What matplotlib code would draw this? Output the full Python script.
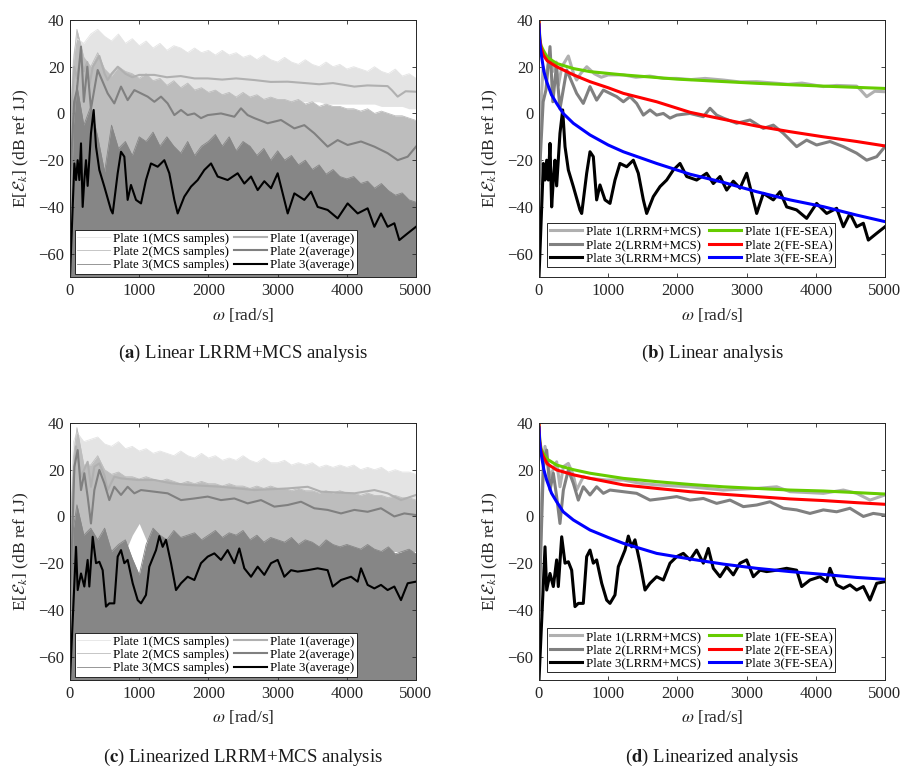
import matplotlib
matplotlib.use("Agg")
import matplotlib.pyplot as plt

plt.rcParams["font.family"] = ["Liberation Serif", "DejaVu Serif"]
plt.rcParams["mathtext.fontset"] = "stix"

# --- linear analysis: MCS averages (also LRRM+MCS in panel b) ---
lin_w1 = [0, 30, 60, 100, 150, 200, 250, 280, 330, 424, 500, 544, 600, 690, 800, 900, 1000,
          1219, 1400, 1600, 1800, 1990, 2200, 2400, 2664, 2900, 3146, 3400, 3600, 3800, 4109,
          4300, 4590, 4650, 4735, 4850, 5000]
lin_p1 = [-43, 5, 20, 15, 25, 18, 22, 12, 20, 24.6, 17, 14.3, 17, 20, 17, 15.5, 16.5,
          16.5, 15.5, 16, 15, 15, 14.5, 15, 14.3, 13.5, 13.6, 13, 12.5, 13, 11.5,
          12, 11.7, 10, 7.2, 9.5, 9.3]

lin_w2 = [0, 60, 100, 159, 200, 250, 303, 400, 544, 640, 737, 833, 930, 1026, 1122, 1219,
          1315, 1411, 1508, 1604, 1700, 1797, 1893, 1990, 2182, 2375, 2471, 2567, 2664, 2856,
          3049, 3242, 3386, 3531, 3723, 3868, 4012, 4205, 4398, 4590, 4735, 4880, 5000]
lin_p2 = [-30, 5, 10, 28.6, 5, 20, 2, 18.6, 8.6, 4.3, 11.5, 5.7, 10, 8.6, 7.2, 5,
          7.2, 4.3, -0.7, 1.5, -0.7, 0, -2, -0.7, 0, -1.4, 2.2, -0.7, -2, -4.2,
          -2.8, -6.4, -5, -8.5, -14.2, -11.4, -13.5, -12, -14.2, -17, -20, -18.5, -14.2]

lin_w3 = [0, 63, 87, 111, 135, 159, 183, 207, 231, 255, 303, 342, 376, 424, 496, 592, 617,
          689, 737, 785, 833, 881, 954, 1026, 1098, 1170, 1267, 1363, 1435, 1508, 1556, 1652,
          1749, 1845, 1941, 2038, 2134, 2278, 2423, 2519, 2616, 2712, 2808, 2905, 3001, 3097,
          3146, 3242, 3386, 3483, 3579, 3723, 3868, 4012, 4157, 4301, 4398, 4494, 4590, 4687,
          4759, 4880, 5000]
lin_p3 = [-70, -21.4, -28.5, -20, -28.5, -12.8, -40, -28.5, -20, -31, -8.5, 1.5, -14.2, -24.2,
          -31.3, -41.3, -42.8, -25.6, -16.4, -18.5, -37, -30.6, -37, -38.5, -28.5, -21.4, -22.8,
          -20, -25.6, -37, -42.8, -35.6, -31.3, -28.5, -24.2, -21.4, -27, -28.5, -25.6, -30,
          -27, -32.8, -29, -32, -25.6, -37, -42.8, -34.2, -37, -33.5, -40, -41.3, -44.9,
          -38.5, -42.8, -40.6, -48.5, -42.8, -48.5, -47, -54.2, -51.3, -48.5]

# --- linear FE-SEA ---
lin_sea_w1 = [0, 10, 20, 30, 63, 120, 255, 500, 737, 1219, 1990, 3146, 4109, 5000]
lin_sea1 = [40, 33, 30.5, 29, 27, 24, 21.4, 19.2, 17.9, 16.5, 14.7, 12.9, 11.7, 10.7]
lin_sea_w2 = [0, 10, 30, 63, 120, 255, 500, 737, 1000, 1219, 1700, 2182, 2664, 3146, 3627,
              4109, 4590, 5000]
lin_sea2 = [40, 32, 28, 25, 22.5, 20, 16.5, 13.6, 11, 8.6, 5.0, 0.5, -2.5, -5.4, -7.8,
            -10, -12, -13.9]
lin_sea_w3 = [0, 10, 20, 38, 70, 111, 180, 255, 350, 496, 737, 1000, 1219, 1700, 2182, 2664,
              3146, 3627, 4109, 4590, 5000]
lin_sea3 = [38, 32, 28, 24.3, 18, 13.6, 8, 4.3, 0, -4.2, -9.2, -13.5, -16.4, -21.4, -26,
            -29.5, -33.5, -37, -39.9, -43.5, -46.3]

# --- linearized analysis: averages ---
lz_w1 = [0, 40, 87, 159, 255, 303, 352, 424, 496, 544, 640, 737, 978, 1219, 1460, 1700,
         2182, 2664, 3146, 3435, 3627, 4109, 4398, 4590, 4783, 5000]
lz_p1 = [-42, 10, 30, 17, 23.4, 12.7, 21.3, 22.7, 17.7, 11.3, 17, 16.3, 15.6, 15.6, 14.2,
         13.5, 12.7, 11.3, 12, 12.7, 10.6, 9.9, 11.3, 9.9, 7, 9.2]

lz_w2 = [0, 63, 111, 159, 207, 255, 303, 352, 424, 496, 568, 640, 737, 833, 930, 1026, 1219,
         1411, 1604, 1797, 1990, 2182, 2375, 2567, 2760, 2953, 3146, 3338, 3531, 3723, 3916,
         4109, 4301, 4494, 4687, 4831, 5000]
lz_p2 = [-40, 21.3, 28.4, 11.3, 18.5, 8.5, -3, 11.3, 19.9, 14.2, 7, 12.7, 9.2, 12.7, 9.9,
         11.3, 10.6, 9.9, 7, 7.7, 8.5, 7, 7.7, 5.6, 7, 4.2, 4.9, 6.3, 3.5, 2.8, 1.3,
         2.8, 2, 3.5, 0, 1.3, 0.6]

lz_w3 = [0, 87, 111, 159, 207, 255, 279, 328, 376, 424, 472, 520, 568, 640, 689, 737, 785,
         833, 906, 978, 1026, 1098, 1146, 1195, 1243, 1291, 1339, 1387, 1460, 1532, 1604,
         1700, 1797, 1893, 1990, 2086, 2182, 2278, 2375, 2447, 2519, 2616, 2712, 2808, 2905,
         3001, 3097, 3194, 3290, 3435, 3579, 3723, 3796, 3916, 4061, 4157, 4205, 4301, 4398,
         4494, 4590, 4687, 4783, 4880, 5000]
lz_p3 = [-70, -13, -31.5, -24.4, -30, -18.6, -30, -8.7, -20, -19.4, -23, -38.6, -37.2, -37.2,
         -17.2, -14.4, -20, -18.6, -28.6, -35.8, -37.2, -33.6, -21.5, -17.9, -14.4, -8.4, -13,
         -10, -20, -31.5, -28.6, -25.8, -27.2, -20, -17.2, -15.8, -18.6, -14.4, -20, -13.7,
         -22.2, -25.8, -21.5, -25, -20, -18.6, -25.8, -23, -23.6, -23, -22.2, -23, -30, -27.2,
         -25.8, -27.9, -22.2, -29.3, -30.8, -29.3, -31.5, -30, -35.8, -28.6, -27.9]

# --- linearized FE-SEA ---
lz_sea_w1 = [0, 10, 30, 63, 120, 255, 500, 737, 1219, 1700, 2182, 2664, 3146, 3627, 4109,
             4590, 5000]
lz_sea1 = [40, 33, 29, 27, 24.5, 22, 20, 18.5, 16.3, 14.9, 13.7, 12.7, 12, 11.3, 10.9,
           10.2, 9.6]
lz_sea_w2 = [0, 10, 30, 63, 120, 255, 500, 737, 1219, 1700, 2182, 2664, 3146, 3627, 4109,
             4590, 5000]
lz_sea2 = [40, 32, 28, 25.6, 22.5, 19.9, 17.8, 16.3, 13.5, 12, 10.6, 9.5, 8.5, 7.5, 6.8,
           5.9, 5.2]
lz_sea_w3 = [0, 10, 20, 38, 70, 111, 180, 255, 350, 496, 737, 1000, 1219, 1700, 2182, 2664,
             3146, 3627, 4109, 4590, 5000]
lz_sea3 = [38, 32, 29, 25.6, 20, 15.6, 10, 6.3, 2, -1.5, -5.8, -9, -11.5, -15.8, -18.2,
           -20.4, -22.2, -23.6, -24.8, -26.1, -26.9]

# --- MCS sample spread: upper / lower envelopes of each sample cloud ---
band_w = [0, 50, 100, 200, 300, 400, 500, 600, 700, 800, 900, 1000,
          1100, 1200, 1300, 1400, 1500, 1600, 1700, 1800, 1900, 2000,
          2100, 2200, 2300, 2400, 2500, 2600, 2700, 2800, 2900, 3000,
          3100, 3200, 3300, 3400, 3500, 3600, 3700, 3800, 3900, 4000,
          4100, 4200, 4300, 4400, 4500, 4600, 4700, 4800, 4900, 5000]
floor_val = -75

lin_s1_up = [0, 25, 32, 30, 34, 36, 33, 31, 34, 30, 32, 29,
             31, 28, 30, 27, 29, 28, 26, 28, 26, 27,
             25, 27, 25, 26, 24, 25, 23, 25, 23, 22,
             24, 22, 21, 23, 21, 20, 22, 20, 21, 19,
             20, 19, 18, 20, 18, 17, 19, 16, 17, 15]
lin_s1_lo = [-40, 5, 8, 10, 9, 10, 9, 8, 9, 9, 9, 9,
             8, 8, 8, 8, 8, 8, 8, 7, 7, 7,
             7, 7, 7, 7, 6, 6, 6, 6, 6, 6,
             5, 5, 5, 5, 5, 5, 4, 4, 4, 4,
             4, 4, 4, 4, 3, 3, 3, 3, 2, 2]
lin_s2_up = [-10, 22, 36, 24, 20, 26, 19, 16, 20, 18, 17, 15,
             17, 14, 15, 12, 14, 11, 13, 10, 11, 9,
             10, 8, 9, 7, 9, 7, 8, 6, 7, 6,
             6, 5, 6, 4, 5, 3, 4, 3, 3, 2,
             2, 1, 2, 0, 1, 0, -1, -1, -2, -3]
lin_s2_lo = [-70, -45, -40, -40, -45, -45, -45, -45, -45, -45, -45, -45,
             -45, -45, -45, -45, -45, -45, -45, -45, -45, -45,
             -45, -45, -45, -45, -45, -45, -45, -45, -45, -45,
             -45, -45, -45, -45, -45, -45, -45, -45, -50, -50,
             -50, -50, -50, -50, -50, -50, -50, -50, -50, -50]
lin_s3_up = [-60, -5, 12, -5, 3, -10, -25, -5, -15, -12, -18, -10,
             -12, -8, -14, -10, -14, -17, -12, -18, -14, -12,
             -9, -14, -10, -16, -12, -14, -18, -15, -20, -16,
             -20, -18, -22, -20, -24, -22, -26, -24, -27, -28,
             -27, -30, -29, -32, -30, -33, -35, -34, -37, -38]

lz_s1_up = [0, 32, 36, 32, 33, 34, 31, 30, 32, 29, 30, 28,
            29, 27, 28, 27, 26, 28, 26, 25, 27, 25,
            26, 24, 25, 24, 26, 24, 23, 25, 23, 23,
            24, 22, 23, 22, 23, 21, 22, 21, 22, 21,
            22, 20, 21, 20, 21, 19, 20, 19, 19, 18]
lz_s1_lo = [-40, 8, 10, 10, 10, 10, 10, 10, 10, 10, 10, 10,
            10, 10, 10, 10, 10, 10, 10, 9, 9, 9,
            9, 9, 9, 9, 9, 9, 8, 8, 8, 8,
            8, 8, 8, 8, 8, 8, 7, 7, 7, 7,
            7, 7, 7, 6, 6, 6, 6, 6, 5, 5]
lz_s2_up = [-10, 25, 38, 22, 22, 26, 20, 18, 19, 17, 17, 16,
            17, 16, 15, 16, 15, 14, 15, 14, 15, 14,
            14, 13, 14, 13, 13, 12, 13, 12, 13, 12,
            12, 11, 12, 11, 11, 10, 11, 10, 11, 10,
            10, 9, 10, 9, 9, 8, 9, 8, 8, 7]
lz_s2_lo = [-70, -30, -28, -25, -25, -20, -25, -20, -18, -15, -8, -3,
            -10, -15, -15, -15, -15, -15, -15, -15, -15, -15,
            -15, -15, -15, -15, -15, -15, -15, -15, -15, -15,
            -15, -15, -15, -15, -15, -15, -15, -15, -15, -15,
            -15, -15, -15, -15, -15, -15, -15, -15, -15, -15]
lz_s3_up = [-60, -5, 5, -8, -5, -10, -5, -15, -12, -10, -18, -25,
            -12, -5, -8, -10, -6, -9, -8, -7, -10, -8,
            -6, -9, -7, -8, -6, -10, -8, -11, -9, -10,
            -11, -9, -12, -10, -11, -13, -10, -12, -13, -12,
            -13, -14, -12, -14, -15, -13, -16, -15, -14, -16]

sample_colors = ["#e4e4e4", "#bdbdbd", "#868686"]
avg_colors = ["#b0b0b0", "#808080", "#000000"]
sea_colors = ["#66cc00", "#ff0000", "#0000ff"]
axis_col = "#262626"


def style_axes(ax):
    ax.set_xlim(0, 5000)
    ax.set_ylim(-70, 40)
    ax.set_xticks([0, 1000, 2000, 3000, 4000, 5000])
    ax.set_yticks([-60, -40, -20, 0, 20, 40])
    ax.tick_params(direction="in", top=True, right=True, length=3, width=0.6,
                   labelsize=12, colors=axis_col, pad=4)
    for s in ax.spines.values():
        s.set_color(axis_col)
        s.set_linewidth(0.7)
    ax.set_xlabel(r"$\omega$ [rad/s]", fontsize=12.5, color=axis_col, labelpad=5)
    ax.set_ylabel(r"E[$\mathcal{E}_k$] (dB ref 1J)", fontsize=12.5, color=axis_col,
                  labelpad=5)


def mcs_panel(ax, bands, avgs):
    for i, (up, lo) in enumerate(bands):
        ax.fill_between(band_w, lo, up, color=sample_colors[i], lw=0)
        ax.plot(band_w, up, color=sample_colors[i], lw=0.6,
                label=f"Plate {i + 1}(MCS samples)")
    for i, (w, v) in enumerate(avgs):
        ax.plot(w, v, color=avg_colors[i], lw=1.5, label=f"Plate {i + 1}(average)")
    style_axes(ax)
    leg = ax.legend(loc="lower left", bbox_to_anchor=(0.014, 0.012), borderaxespad=0,
                    ncol=2, fontsize=9.3, handlelength=2.5, handletextpad=0.25,
                    columnspacing=0.4, labelspacing=0.1, borderpad=0.2,
                    fancybox=False, framealpha=1, edgecolor=axis_col)
    leg.get_frame().set_linewidth(0.7)


def compare_panel(ax, avgs, seas, anchor):
    for i, (w, v) in enumerate(avgs):
        ax.plot(w, v, color=avg_colors[i], lw=2.2, label=f"Plate {i + 1}(LRRM+MCS)")
    for i, (w, v) in enumerate(seas):
        ax.plot(w, v, color=sea_colors[i], lw=2.2, label=f"Plate {i + 1}(FE-SEA)")
    style_axes(ax)
    leg = ax.legend(loc="lower left", bbox_to_anchor=anchor, borderaxespad=0,
                    ncol=2, fontsize=9.3, handlelength=2.5, handletextpad=0.3,
                    columnspacing=0.6, labelspacing=0.1, borderpad=0.2,
                    fancybox=False, framealpha=1, edgecolor=axis_col)
    leg.get_frame().set_linewidth(0.7)


def main():
    fig = plt.figure(figsize=(9.04, 7.72), dpi=100)
    W, H = 904, 772
    aw, ah = 346 / W, 257 / H
    ax_a = fig.add_axes([70 / W, (H - 277) / H, aw, ah])
    ax_b = fig.add_axes([539 / W, (H - 277) / H, aw, ah])
    ax_c = fig.add_axes([70 / W, (H - 680) / H, aw, ah])
    ax_d = fig.add_axes([539 / W, (H - 680) / H, aw, ah])

    lin_avgs = [(lin_w1, lin_p1), (lin_w2, lin_p2), (lin_w3, lin_p3)]
    lz_avgs = [(lz_w1, lz_p1), (lz_w2, lz_p2), (lz_w3, lz_p3)]
    floor = [floor_val] * len(band_w)

    mcs_panel(ax_a, [(lin_s1_up, lin_s1_lo), (lin_s2_up, lin_s2_lo),
                     (lin_s3_up, floor)], lin_avgs)
    compare_panel(ax_b, lin_avgs,
                  [(lin_sea_w1, lin_sea1), (lin_sea_w2, lin_sea2), (lin_sea_w3, lin_sea3)],
                  (0.023, 0.039))
    mcs_panel(ax_c, [(lz_s1_up, lz_s1_lo), (lz_s2_up, lz_s2_lo),
                     (lz_s3_up, floor)], lz_avgs)
    compare_panel(ax_d, lz_avgs,
                  [(lz_sea_w1, lz_sea1), (lz_sea_w2, lz_sea2), (lz_sea_w3, lz_sea3)],
                  (0.023, 0.031))

    captions = [(243, 353, r"($\mathbf{a}$) Linear LRRM+MCS analysis"),
                (712, 353, r"($\mathbf{b}$) Linear analysis"),
                (243, 757, r"($\mathbf{c}$) Linearized LRRM+MCS analysis"),
                (712, 757, r"($\mathbf{d}$) Linearized analysis")]
    for x, y, txt in captions:
        fig.text(x / W, 1 - y / H, txt, ha="center", va="center", fontsize=13.5,
                 color="#1a1a1a")

    fig.savefig("out.png", dpi=100)


if __name__ == "__main__":
    main()
